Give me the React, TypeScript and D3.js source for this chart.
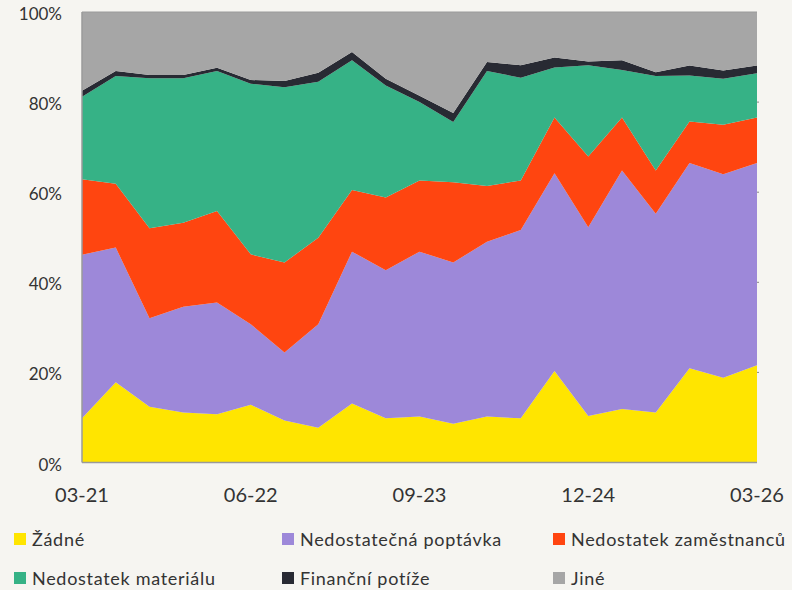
import React, { useRef, useEffect } from 'react';
import * as d3 from 'd3';

const quarters = [
  '03-21', '06-21', '09-21', '12-21', '03-22', '06-22', '09-22', '12-22', '03-23', '06-23', '09-23',
  '12-23', '03-24', '06-24', '09-24', '12-24', '03-25', '06-25', '09-25', '12-25', '03-26',
];
const xTickLabels = ['03-21', '06-22', '09-23', '12-24', '03-26'];
const yTicks = [0, 0.2, 0.4, 0.6, 0.8, 1];

const zadne = [9.8, 17.8, 12.4, 11.1, 10.7, 12.8, 9.3, 7.7, 13.1, 9.8, 10.2, 8.6, 10.2, 9.8, 20.3, 10.3, 11.9, 11.1, 20.9, 18.8, 21.6];
const poptavka = [36.3, 29.9, 19.6, 23.5, 24.8, 17.9, 15.1, 23.0, 33.7, 32.9, 36.6, 35.8, 38.8, 41.8, 43.9, 41.9, 52.9, 44.1, 45.6, 45.2, 44.9];
const zamestnanci = [16.8, 14.2, 20.0, 18.6, 20.3, 15.5, 20.0, 19.2, 13.7, 16.1, 15.8, 17.8, 12.4, 11.0, 12.4, 15.7, 11.8, 9.6, 9.2, 11.0, 10.1];
const material = [18.3, 23.9, 33.3, 32.1, 31.1, 37.9, 38.9, 34.6, 28.8, 24.9, 17.4, 13.4, 25.5, 22.8, 11.1, 20.3, 10.5, 21.0, 10.2, 10.2, 9.8];
const financni = [1.3, 1.1, 0.7, 0.7, 0.7, 0.8, 1.4, 2.0, 1.8, 1.5, 1.4, 2.0, 2.0, 2.8, 2.2, 0.8, 2.2, 0.8, 2.2, 1.8, 1.7];
const jine = [17.5, 13.1, 14.0, 14.0, 12.4, 15.1, 15.3, 13.5, 8.9, 14.8, 18.6, 22.4, 11.1, 11.8, 10.1, 11.0, 10.7, 13.4, 11.9, 13.0, 11.9];

const series = [
  { key: 'Žádné', values: zadne, color: '#ffe500' },
  { key: 'Nedostatečná poptávka', values: poptavka, color: '#9d88d9' },
  { key: 'Nedostatek zaměstnanců', values: zamestnanci, color: '#ff4510' },
  { key: 'Nedostatek materiálu', values: material, color: '#36b286' },
  { key: 'Finanční potíže', values: financni, color: '#282a33' },
  { key: 'Jiné', values: jine, color: '#a6a6a6' },
];

const W = 792;
const H = 590;
const FONT = 'Lato, "Open Sans", sans-serif';
const TEXT = '#333333';

export default function App() {
  const svgRef = useRef<SVGSVGElement>(null);

  useEffect(() => {
    const svg = d3.select(svgRef.current);
    svg.selectAll('*').remove();

    svg.append('rect').attr('width', W).attr('height', H).attr('fill', '#f6f5f1');

    const x = d3.scalePoint<string>().domain(quarters).range([82, 757]);
    const y = d3.scaleLinear().domain([0, 1]).range([462.5, 12]);

    const rows = quarters.map((q, i) => {
      const row: any = { q };
      series.forEach((s) => { row[s.key] = s.values[i]; });
      return row;
    });

    const stacked = d3.stack<any>()
      .keys(series.map((s) => s.key))
      .offset(d3.stackOffsetExpand)(rows);

    const area = d3.area<any>()
      .x((d) => x(d.data.q) as number)
      .y0((d) => y(d[0]))
      .y1((d) => y(d[1]));

    svg.append('g')
      .selectAll('path')
      .data(stacked)
      .enter()
      .append('path')
      .attr('fill', (d, i) => series[i].color)
      .attr('d', area);

    // frame: left, bottom, top
    const axisColor = '#9a9a9a';
    const [x0, x1] = x.range();
    svg.append('line').attr('x1', x0).attr('x2', x0).attr('y1', y(1)).attr('y2', y(0))
      .attr('stroke', axisColor).attr('stroke-width', 1.5);
    svg.append('line').attr('x1', x0).attr('x2', x1).attr('y1', y(0)).attr('y2', y(0))
      .attr('stroke', axisColor).attr('stroke-width', 1.5);
    svg.append('line').attr('x1', x0).attr('x2', x1).attr('y1', y(1)).attr('y2', y(1))
      .attr('stroke', axisColor).attr('stroke-width', 1);

    // y tick labels
    svg.append('g')
      .selectAll('text')
      .data(yTicks)
      .enter()
      .append('text')
      .attr('x', 62)
      .attr('y', (d) => y(d) + 8)
      .attr('text-anchor', 'end')
      .attr('font-family', FONT)
      .attr('font-size', 17)
      .attr('fill', TEXT)
      .text((d) => d3.format('.0%')(d));

    // small right-side ticks
    svg.append('g')
      .selectAll('line')
      .data(yTicks.slice(1, -1))
      .enter()
      .append('line')
      .attr('x1', x1)
      .attr('x2', x1 + 2)
      .attr('y1', (d) => y(d))
      .attr('y2', (d) => y(d))
      .attr('stroke', '#888')
      .attr('stroke-width', 1);

    // x tick labels
    svg.append('g')
      .selectAll('text')
      .data(xTickLabels)
      .enter()
      .append('text')
      .attr('x', (d) => x(d) as number)
      .attr('y', 502)
      .attr('text-anchor', 'middle')
      .attr('font-family', FONT)
      .attr('font-size', 20)
      .attr('fill', TEXT)
      .text((d) => d);

    // legend
    const colX = [14, 282, 553];
    const rowY = [546, 585];
    const legend = svg.append('g')
      .selectAll('g')
      .data(series)
      .enter()
      .append('g')
      .attr('transform', (d, i) => `translate(${colX[i % 3]},${rowY[Math.floor(i / 3)]})`);

    legend.append('rect')
      .attr('x', 0)
      .attr('y', -13)
      .attr('width', 12)
      .attr('height', 12)
      .attr('fill', (d) => d.color);

    legend.append('text')
      .attr('x', 18)
      .attr('y', 0)
      .attr('font-family', FONT)
      .attr('font-size', 18)
      .attr('letter-spacing', 0.7)
      .attr('fill', TEXT)
      .text((d) => d.key);
  }, []);

  return (
    <svg
      ref={svgRef}
      width={W}
      height={H}
      style={{ position: 'absolute', left: 0, top: 0, display: 'block' }}
    />
  );
}
